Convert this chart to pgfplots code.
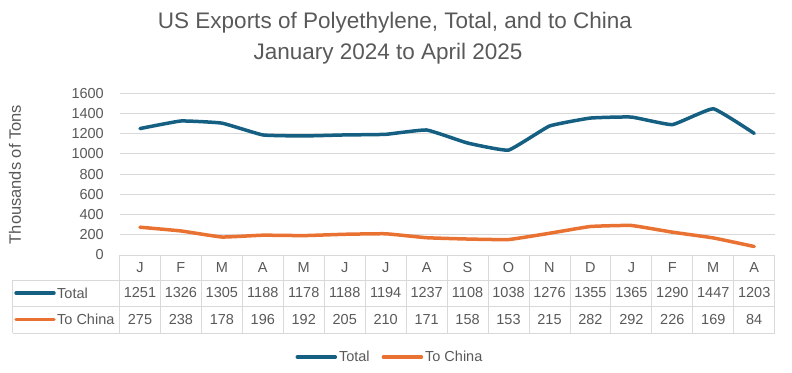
\documentclass[border=0pt]{standalone}
\usepackage{pgfplots}
\pgfplotsset{compat=1.18}
\usepackage{fontspec}
\setmainfont{Liberation Sans}
\definecolor{totalc}{HTML}{156082}
\definecolor{chinac}{HTML}{E97132}
\definecolor{txt}{HTML}{595959}
\definecolor{gridc}{HTML}{D9D9D9}
\newcommand{\lbl}{\fontsize{14.5}{17}\selectfont}
\begin{document}
\begin{tikzpicture}[x=1pt,y=1pt]
\path[use as bounding box] (0,0) rectangle (792,372);
\node[txt, font=\fontsize{22.5}{26}\selectfont] at (395,349) {US Exports of Polyethylene, Total, and to China};
\node[txt, font=\fontsize{22.5}{26}\selectfont] at (388,318) {January 2024 to April 2025};
\node[txt, font=\fontsize{16.5}{19}\selectfont, rotate=90] at (15,197.5) {Thousands of Tons};
\begin{axis}[
  at={(119.5pt,117pt)}, anchor=south west,
  scale only axis, width=655.2pt, height=161.7pt,
  xmin=-0.5, xmax=15.5, ymin=0, ymax=1600,
  xtick=\empty, ytick={0,200,...,1600},
  ymajorgrids, grid style={gridc, line width=0.9pt},
  axis line style={draw=none},
  major tick length=0pt,
  tick label style={txt, font=\lbl},
  /pgf/number format/assume math mode=true,
  /pgf/number format/1000 sep={},
  yticklabel style={inner sep=0pt, xshift=-15.5pt},
  legend style={at={(axis description cs:0.4128,-0.631)}, anchor=center,
    draw=none, fill=none, font=\lbl, text=txt, legend columns=2,
    /tikz/every even column/.append style={column sep=10pt}},
  legend image code/.code={\draw[#1] (0pt,0pt) -- (38pt,0pt);},
  every axis plot/.append style={line width=3.5pt, line join=round, line cap=round},
]
\addplot[color=totalc, smooth, tension=0.2] coordinates {
(0,1251) (1,1326) (2,1305) (3,1188) (4,1178) (5,1188) (6,1194) (7,1237)
(8,1108) (9,1038) (10,1276) (11,1355) (12,1365) (13,1290) (14,1447) (15,1203)};
\addlegendentry{Total}
\addplot[color=chinac, smooth, tension=0.2] coordinates {
(0,275) (1,238) (2,178) (3,196) (4,192) (5,205) (6,210) (7,171)
(8,158) (9,153) (10,215) (11,282) (12,292) (13,226) (14,169) (15,84)};
\addlegendentry{To China}
\end{axis}
% data table below the chart
\foreach \k in {0,...,16} \draw[gridc, line width=0.9] ({119.5+40.95*\k},117) -- ({119.5+40.95*\k},39);
\draw[gridc, line width=0.9] (119.5,117) -- (774.7,117);
\draw[gridc, line width=0.9] (12.7,92) -- (774.7,92);
\draw[gridc, line width=0.9] (12.7,66) -- (774.7,66);
\draw[gridc, line width=0.9] (12.7,39) -- (774.7,39);
\draw[gridc, line width=0.9] (12.7,92) -- (12.7,39);
\foreach \m [count=\i from 0] in {J,F,M,A,M,J,J,A,S,O,N,D,J,F,M,A}
  \node[txt, font=\lbl] at ({119.5+40.95*(\i+0.5)},104.5) {\m};
\foreach \v [count=\i from 0] in {1251,1326,1305,1188,1178,1188,1194,1237,1108,1038,1276,1355,1365,1290,1447,1203}
  \node[txt, font=\lbl] at ({119.5+40.95*(\i+0.5)},79) {\v};
\foreach \v [count=\i from 0] in {275,238,178,196,192,205,210,171,158,153,215,282,292,226,169,84}
  \node[txt, font=\lbl] at ({119.5+40.95*(\i+0.5)},52.5) {\v};
\draw[totalc, line width=3.5, line cap=round] (16,79) -- (54,79);
\node[txt, font=\lbl, anchor=west, inner sep=0pt] at (57,79) {Total};
\draw[chinac, line width=3.5, line cap=round] (16,52.5) -- (54,52.5);
\node[txt, font=\lbl, anchor=west, inner sep=0pt] at (57,52.5) {To China};
\end{tikzpicture}
\end{document}
